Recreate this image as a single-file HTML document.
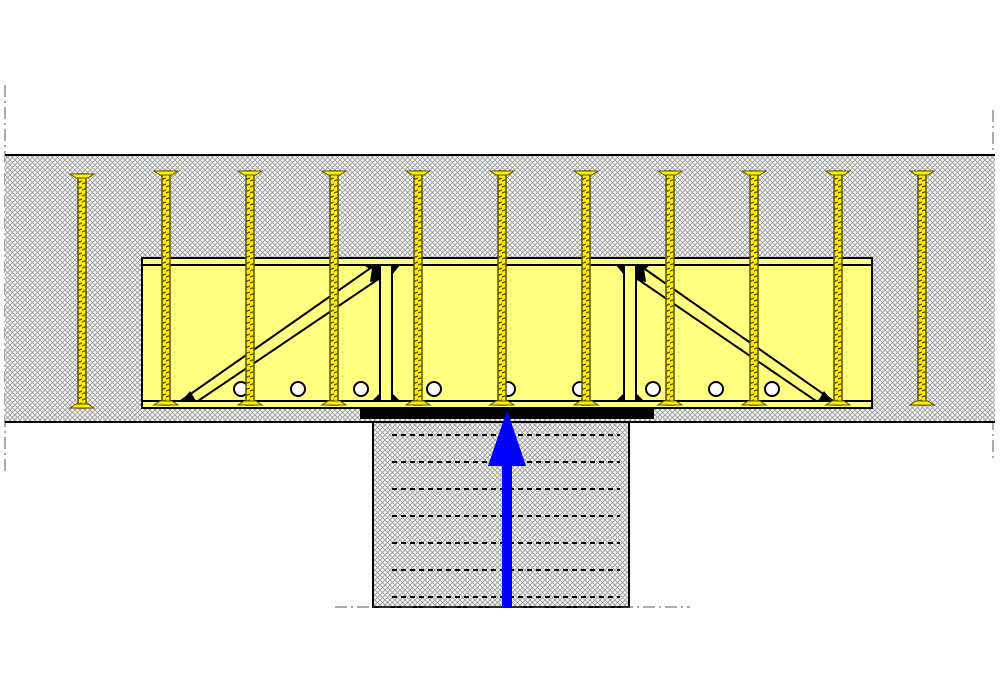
<!DOCTYPE html>
<html><head><style>html,body{margin:0;padding:0;background:#fff}svg{display:block}</style></head>
<body>
<svg width="1000" height="700" viewBox="0 0 1000 700" xmlns="http://www.w3.org/2000/svg">
<defs>
<pattern id="hatch" width="5" height="5" patternUnits="userSpaceOnUse">
<rect width="5" height="5" fill="#f4f4f4"/>
<path d="M0,0L5,5M5,0L0,5" stroke="#999" stroke-width="0.8"/>
</pattern>
<pattern id="thread" width="8" height="6" patternUnits="userSpaceOnUse" x="0" y="0">
<rect width="8" height="6" fill="#ffee00"/>
<path d="M0,4L8,1" stroke="#5a5400" stroke-width="1.4"/>
</pattern>
<g id="screw">
<rect x="-4" y="0" width="8" height="234" fill="url(#thread)" stroke="#5a5400" stroke-width="1.5"/>
<path d="M-12,0 L12,0 L6,4 L-6,4 Z" fill="#ffee00" stroke="#5a5400" stroke-width="1"/>
<path d="M-12,234 L12,234 L6,230 L-6,230 Z" fill="#ffee00" stroke="#5a5400" stroke-width="1"/>
</g>
</defs>
<line x1="5" y1="85" x2="5" y2="475" stroke="#555" stroke-width="1" stroke-dasharray="12,4,2,4"/>
<line x1="993" y1="110" x2="993" y2="460" stroke="#555" stroke-width="1" stroke-dasharray="12,4,2,4"/>
<rect x="5" y="155" width="990" height="267" fill="url(#hatch)"/>
<line x1="5" y1="155" x2="995" y2="155" stroke="#000" stroke-width="2"/>
<line x1="5" y1="422" x2="995" y2="422" stroke="#000" stroke-width="2"/>
<rect x="373" y="422" width="256" height="185" fill="url(#hatch)" stroke="#000" stroke-width="2"/>
<g stroke="#000" stroke-width="2" stroke-dasharray="5,4">
<line x1="392" y1="435" x2="620" y2="435"/>
<line x1="392" y1="462" x2="620" y2="462"/>
<line x1="392" y1="489" x2="620" y2="489"/>
<line x1="392" y1="516" x2="620" y2="516"/>
<line x1="392" y1="543" x2="620" y2="543"/>
<line x1="392" y1="570" x2="620" y2="570"/>
<line x1="392" y1="597" x2="620" y2="597"/>
</g>
<rect x="370" y="608" width="262" height="4" fill="#fff"/>
<line x1="335" y1="607" x2="690" y2="607" stroke="#555" stroke-width="1" stroke-dasharray="12,4,2,4"/>
<rect x="142" y="258" width="730" height="150" fill="#ffff80" stroke="#000" stroke-width="2"/>
<line x1="142" y1="265" x2="872" y2="265" stroke="#000" stroke-width="2"/>
<line x1="142" y1="401" x2="872" y2="401" stroke="#000" stroke-width="2"/>
<rect x="380" y="265" width="12" height="136" fill="#ffff80" stroke="#000" stroke-width="2"/>
<rect x="624" y="265" width="12" height="136" fill="#ffff80" stroke="#000" stroke-width="2"/>
<path d="M364,265 L380,265 L380,277 Z M392,265 L400,265 L392,275 Z M372,401 L380,401 L380,393 Z M392,393 L400,401 L392,401 Z" fill="#000"/>
<path d="M636,265 L650,265 L636,277 Z M616,265 L624,265 L624,275 Z M616,401 L624,393 L624,401 Z M636,393 L644,401 L636,401 Z" fill="#000"/>
<polygon points="182,400 372,267 380,278 198,401" fill="#ffff80" stroke="#000" stroke-width="2"/>
<path d="M182,401 L196,401 L190,391 Z M372,268 L380,268 L380,280 L370,282 Z" fill="#000"/>
<polygon points="642,267 832,400 816,401 636,278" fill="#ffff80" stroke="#000" stroke-width="2"/>
<path d="M832,401 L818,401 L824,391 Z M636,268 L644,268 L646,282 L636,280 Z" fill="#000"/>
<g fill="#fff" stroke="#000" stroke-width="2">
<circle cx="241" cy="389" r="7"/><circle cx="298" cy="389" r="7"/><circle cx="361" cy="389" r="7"/>
<circle cx="434" cy="389" r="7"/><circle cx="508" cy="389" r="7"/><circle cx="580" cy="389" r="7"/>
<circle cx="653" cy="389" r="7"/><circle cx="716" cy="389" r="7"/><circle cx="772" cy="389" r="7"/>
</g>
<rect x="360" y="408" width="294" height="11" fill="#000"/>
<use href="#screw" x="82" y="174"/>
<use href="#screw" x="166" y="171"/>
<use href="#screw" x="250" y="171"/>
<use href="#screw" x="334" y="171"/>
<use href="#screw" x="418" y="171"/>
<use href="#screw" x="502" y="171"/>
<use href="#screw" x="586" y="171"/>
<use href="#screw" x="670" y="171"/>
<use href="#screw" x="754" y="171"/>
<use href="#screw" x="838" y="171"/>
<use href="#screw" x="922" y="171"/>
<rect x="502" y="464" width="10" height="144" fill="#0000ff"/>
<polygon points="507,410 526,466 488,466" fill="#0000ff"/>
</svg>
</body></html>
